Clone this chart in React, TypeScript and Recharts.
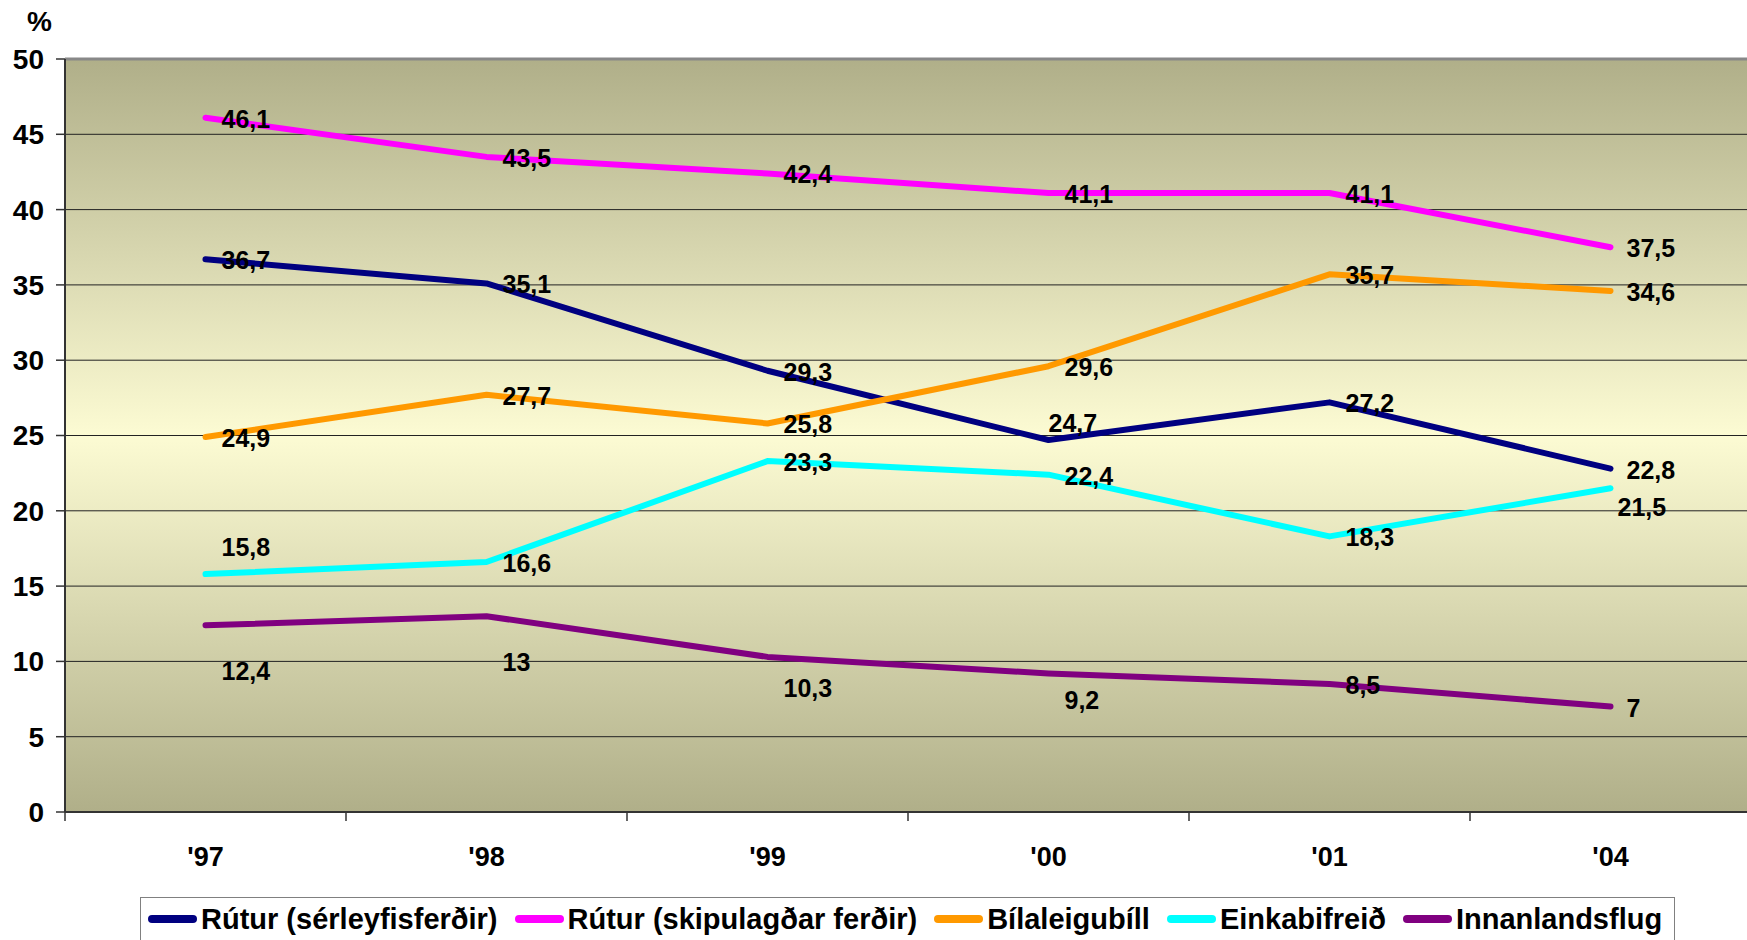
import { LineChart, Line, XAxis, YAxis, CartesianGrid, Legend, ReferenceLine } from "recharts";

const years = ["'97", "'98", "'99", "'00", "'01", "'04"];

const serleyfisferdir = [36.7, 35.1, 29.3, 24.7, 27.2, 22.8];
const skipulagdarFerdir = [46.1, 43.5, 42.4, 41.1, 41.1, 37.5];
const bilaleigubill = [24.9, 27.7, 25.8, 29.6, 35.7, 34.6];
const einkabifreid = [15.8, 16.6, 23.3, 22.4, 18.3, 21.5];
const innanlandsflug = [12.4, 13, 10.3, 9.2, 8.5, 7];

const yTicks = [0, 5, 10, 15, 20, 25, 30, 35, 40, 45, 50];

const SERIES = [
  { key: "serleyfis", name: "Rútur (sérleyfisferðir)", values: serleyfisferdir, color: "#000080" },
  { key: "skipulag", name: "Rútur (skipulagðar ferðir)", values: skipulagdarFerdir, color: "#ff00ff" },
  { key: "bilaleiga", name: "Bílaleigubíll", values: bilaleigubill, color: "#ff9900" },
  { key: "einka", name: "Einkabifreið", values: einkabifreid, color: "#00ffff" },
  { key: "flug", name: "Innanlandsflug", values: innanlandsflug, color: "#800080" },
];

// label nudges (dx, dy) where the label isn't simply to the right of the point
const LABEL_SHIFT: Record<string, Record<number, [number, number]>> = {
  serleyfis: { 3: [0, -17] },
  einka: { 0: [16, -27], 5: [7, 19] },
  flug: { 0: [16, 46], 1: [16, 46], 2: [16, 31], 3: [16, 27] },
};

const data = years.map((year, i) => {
  const row: Record<string, string | number> = { year };
  SERIES.forEach((s) => (row[s.key] = s.values[i]));
  return row;
});

const FONT = '"Liberation Sans", Arial, Helvetica, sans-serif';
const CHART_W = 1751;
const PLOT_LEFT = 65;
const BAND = (CHART_W - PLOT_LEFT) / years.length;

const fmt = (v: number) => String(v).replace(".", ",");

const XTick = (props: any) => {
  const { x, y, payload } = props;
  const left = x - BAND / 2;
  return (
    <g>
      <line x1={left} y1={y} x2={left} y2={y + 9} stroke="#333" strokeWidth={1.5} />
      <text x={x} y={y + 44} dy="0.36em" textAnchor="middle" fontFamily={FONT} fontWeight="bold" fontSize={27} fill="#000">
        {payload.value}
      </text>
    </g>
  );
};

const makeLabel = (key: string) => (p: any) => {
  const x = p.x ?? p.viewBox?.x;
  const y = p.y ?? p.viewBox?.y;
  if (x == null || y == null) return null;
  const [dx, dy] = LABEL_SHIFT[key]?.[p.index] ?? [16, 1];
  return (
    <text key={`${key}-${p.index}`} x={x + dx} y={y + dy} dy="0.36em" fontFamily={FONT} fontWeight="bold" fontSize={25} fill="#000">
      {fmt(p.value)}
    </text>
  );
};

const LegendBox = () => (
  <div style={{ height: 40, width: 1535, position: "relative" }}>
    <div
      style={{
        position: "absolute",
        left: 0,
        top: 0,
        width: 1535,
        height: 60,
        border: "1.5px solid #808080",
        background: "#fff",
        boxSizing: "border-box",
        display: "flex",
        alignItems: "flex-start",
        paddingLeft: 7,
        paddingTop: 4,
        gap: 17,
        fontFamily: FONT,
        fontWeight: "bold",
        fontSize: 29,
        color: "#000",
        whiteSpace: "nowrap",
      }}
    >
      {SERIES.map((s) => (
        <div key={s.key} style={{ display: "flex", alignItems: "center", height: 34, lineHeight: "34px" }}>
          <span style={{ display: "inline-block", width: 49, height: 8, borderRadius: 4, background: s.color, marginRight: 4 }} />
          <span>{s.name}</span>
        </div>
      ))}
    </div>
  </div>
);

export default function App() {
  return (
    <div style={{ position: "fixed", left: 0, top: 0, width: 1747, height: 940, overflow: "hidden", background: "#fff" }}>
      <LineChart width={CHART_W} height={940} data={data} margin={{ top: 59, right: 0, bottom: 0, left: 0 }}>
        <defs>
          <linearGradient id="plotBg" x1="0" y1="0" x2="0" y2="1">
            <stop offset="0%" stopColor="#b0af89" />
            <stop offset="50%" stopColor="#fcfbd3" />
            <stop offset="100%" stopColor="#b0af89" />
          </linearGradient>
        </defs>
        <CartesianGrid vertical={false} stroke="#222" strokeWidth={1} fill="url(#plotBg)" fillOpacity={1} />
        <ReferenceLine y={50} stroke="#888" strokeWidth={3} />
        <XAxis
          dataKey="year"
          height={128}
          padding={{ left: BAND / 2, right: BAND / 2 }}
          tickLine={false}
          tickSize={0}
          tickMargin={0}
          axisLine={{ stroke: "#333", strokeWidth: 2 }}
          tick={<XTick />}
          interval={0}
        />
        <YAxis
          width={PLOT_LEFT}
          domain={[0, 50]}
          ticks={yTicks}
          interval={0}
          tickSize={9}
          tickMargin={12}
          axisLine={{ stroke: "#333", strokeWidth: 2 }}
          tickLine={{ stroke: "#333", strokeWidth: 1.5 }}
          tick={{ fontFamily: FONT, fontWeight: "bold", fontSize: 28, fill: "#000" }}
          label={{
            value: "%",
            position: "top",
            offset: 28,
            dx: 7,
            style: { fontFamily: FONT, fontWeight: "bold", fontSize: 28, fill: "#000" },
          }}
        />
        <Legend
          layout="horizontal"
          verticalAlign="middle"
          align="center"
          content={<LegendBox />}
          wrapperStyle={{ left: 140, top: 897, width: 1535, height: 40 }}
        />
        {SERIES.map((s) => (
          <Line
            key={s.key}
            dataKey={s.key}
            name={s.name}
            stroke={s.color}
            strokeWidth={6}
            strokeLinecap="round"
            strokeLinejoin="round"
            dot={false}
            activeDot={false}
            isAnimationActive={false}
            label={makeLabel(s.key)}
          />
        ))}
      </LineChart>
    </div>
  );
}
